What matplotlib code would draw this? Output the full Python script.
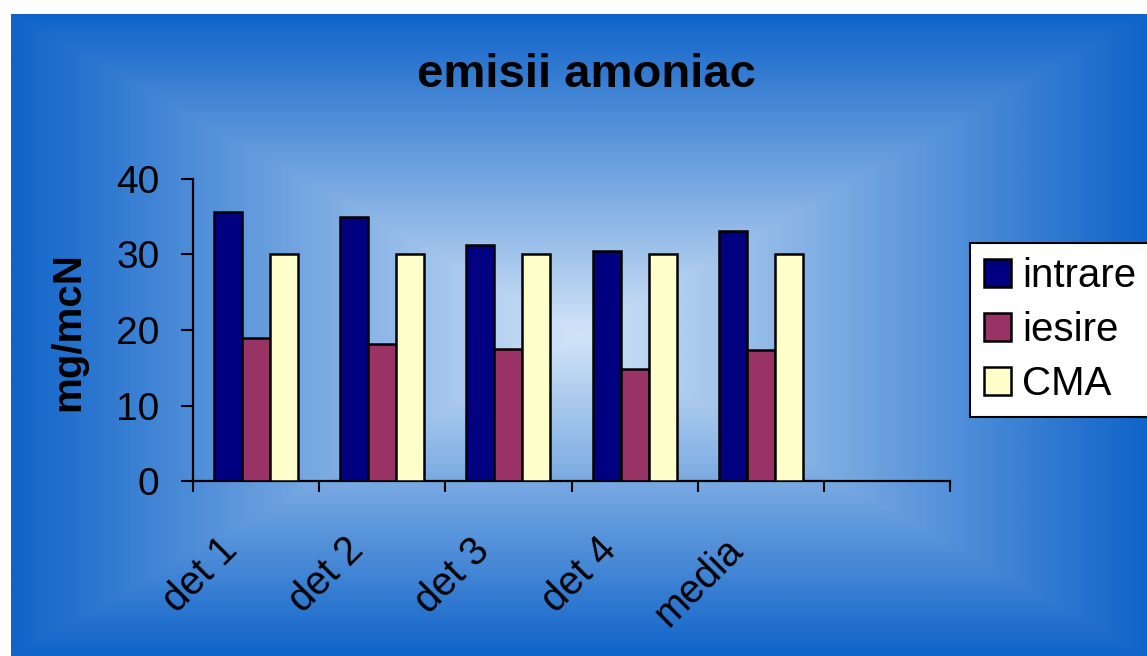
import numpy as np
import matplotlib.pyplot as plt
from matplotlib.colors import LinearSegmentedColormap
from matplotlib.transforms import ScaledTranslation

categories = ['det 1', 'det 2', 'det 3', 'det 4', 'media', '']
intrare = [35.6, 35.0, 31.2, 30.5, 33.1]
iesire = [19.0, 18.1, 17.5, 14.8, 17.3]
cma = [30, 30, 30, 30, 30]

series = [('intrare', intrare, '#000080'),
          ('iesire', iesire, '#993366'),
          ('CMA', cma, '#FFFFCC')]

plt.rcParams['font.family'] = ['Liberation Sans', 'DejaVu Sans']

W, H = 1147, 656
fig = plt.figure(figsize=(W / 100, H / 100), dpi=100)
fig.patch.set_facecolor('white')

# rectangular "from centre" gradient behind the chart
bg = fig.add_axes([11 / W, 0, 1 - 11 / W, 1 - 14 / H])
bg.set_axis_off()
nx, ny = 600, 340
gx = np.abs(np.linspace(-1, 1, nx))[None, :]
gy = np.abs(np.linspace(-1, 1, ny))[:, None]
t = np.maximum(gx, gy)
cmap = LinearSegmentedColormap.from_list('bg', ['#D2E4F7', '#1064C9'])
bg.imshow(t, cmap=cmap, aspect='auto', extent=[0, 1, 0, 1], interpolation='bicubic')
bg.set_xlim(0, 1)
bg.set_ylim(0, 1)

ax = fig.add_axes([193 / W, 1 - 481 / H, (950 - 193) / W, (481 - 179) / H])
ax.patch.set_visible(False)

n = len(intrare)
x = np.arange(n)
bw = 1 / 4.5
for i, (name, vals, col) in enumerate(series):
    ax.bar(x + (i - 1) * bw, vals, bw, color=col, edgecolor='black',
           linewidth=1.8, label=name, zorder=3)

ax.set_xlim(-0.5, len(categories) - 0.5)
ax.set_ylim(0, 40)
ax.set_yticks([0, 10, 20, 30, 40])

ax.set_xticks(np.arange(len(categories) + 1) - 0.5)
ax.set_xticklabels([])
ax.set_xticks(np.arange(len(categories)), minor=True)
ax.set_xticklabels(categories, minor=True, rotation=45, ha='right', va='top',
                   fontsize=28.5)
ax.tick_params(axis='x', which='major', direction='out', length=8, width=1.5)
ax.tick_params(axis='x', which='minor', length=0, pad=36)
ax.tick_params(axis='y', direction='out', length=8.6, width=1.5, pad=15.5,
               labelsize=28)
off = ScaledTranslation(-0.11, 0, fig.dpi_scale_trans)
for lab in ax.get_xticklabels(minor=True):
    lab.set_transform(lab.get_transform() + off)

for s in ['top', 'right']:
    ax.spines[s].set_visible(False)
for s in ['left', 'bottom']:
    ax.spines[s].set_linewidth(1.6)

fig.text(586 / W, 1 - 87 / H, 'emisii amoniac', ha='center', va='baseline',
         fontsize=34, fontweight='bold')
fig.text(68 / W, 1 - 332 / H, 'mg/mcN', ha='center', va='center',
         rotation=90, fontsize=29, fontweight='bold')

leg = fig.legend(loc='upper left', bbox_to_anchor=(970 / W, 1 - 243 / H),
                 fontsize=29, frameon=True, fancybox=False, framealpha=1,
                 edgecolor='black', handlelength=0.67, handleheight=0.67,
                 handletextpad=0.27, labelspacing=0.4, borderpad=0.35,
                 borderaxespad=0)
leg.get_frame().set_linewidth(1.5)

fig.savefig('out.png', dpi=100)
